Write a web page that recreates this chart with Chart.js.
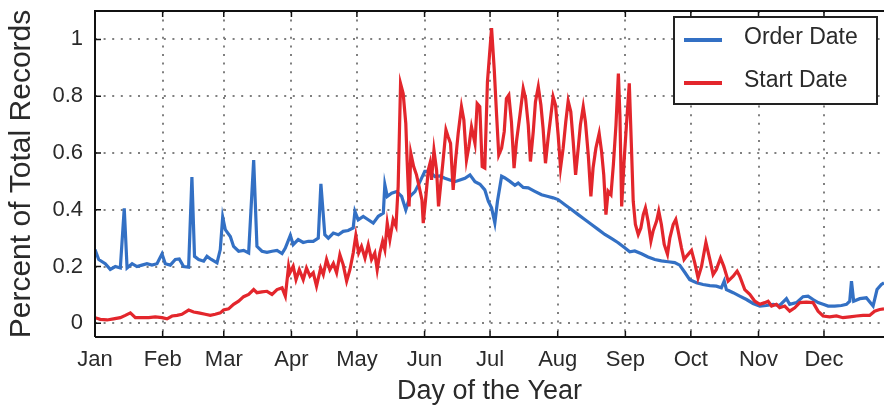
<!DOCTYPE html>
<html><head><meta charset="utf-8">
<script src="https://cdn.jsdelivr.net/npm/chart.js@4"></script>
<style>html,body{margin:0;padding:0;background:#fff;overflow:hidden}</style>
</head><body>
<canvas id="c" width="884" height="406"></canvas>
<script>
// ---- data ----
const monthTicks = [0, 31, 59, 90, 120, 151, 181, 212, 243, 273, 304, 334];
const monthLabels = ['Jan','Feb','Mar','Apr','May','Jun','Jul','Aug','Sep','Oct','Nov','Dec'];
const yTicks = [0, 0.2, 0.4, 0.6, 0.8, 1];
const yTickLabels = ['0', '0.2', '0.4', '0.6', '0.8', '1'];
const seriesNames = ['Order Date', 'Start Date'];

const orderDays = [0,1.7,4.7,7,9.3,11.6,13.4,14.7,17,19.2,21.5,23.8,26.1,28.4,30.7,32.2,34.5,36.8,38.6,40.6,42.9,44.4,45.6,47.5,49.8,51.3,53.3,55.9,57.4,58.5,59.7,62,63.5,65.8,68.1,70.4,72.7,74.2,76.5,78.8,81.1,83.4,85.7,87.2,89.5,90.8,93.1,95.4,97.7,100,102.3,103.5,105.3,106.9,109.2,111.5,113.7,116,118.3,119.1,120.6,122.9,125.2,127.5,129.8,132.1,132.8,133.9,135.9,138.2,140.5,142.4,144.3,146.6,148.9,151.1,153.4,155.7,158,160.3,162.6,164.9,167.2,169.5,171.8,174.1,176.4,178.6,180.2,181.7,183.2,184.4,186.3,187.8,190.1,192.4,193.9,196.2,198.5,201.5,204.6,207.6,209.9,212.2,215.3,218.3,221.4,224.4,227.5,230.5,233.6,236.6,239.7,242.7,245,247.3,250.4,253.4,256.5,259.5,262.6,265.6,267.9,270.2,272.5,275.6,278.6,281.7,284.7,287,288.3,289.3,292.4,295.4,298.5,301.5,304.6,307.6,310.7,313.7,316.8,318.3,321.4,324.4,326.7,329,331.3,333.6,335.9,338.9,342,344.3,345.8,346.6,347.6,350.4,353.4,356.5,358.3,360.3,361.5];
const orderValues = [0.26,0.225,0.21,0.19,0.2,0.195,0.405,0.195,0.21,0.2,0.205,0.21,0.205,0.21,0.245,0.21,0.205,0.225,0.227,0.2,0.198,0.515,0.236,0.225,0.219,0.236,0.225,0.213,0.26,0.374,0.33,0.306,0.271,0.254,0.257,0.248,0.575,0.271,0.254,0.25,0.254,0.257,0.246,0.265,0.31,0.277,0.295,0.285,0.289,0.289,0.3,0.491,0.312,0.3,0.318,0.312,0.324,0.327,0.336,0.394,0.365,0.377,0.365,0.353,0.377,0.388,0.488,0.447,0.458,0.464,0.447,0.4,0.447,0.464,0.499,0.535,0.535,0.517,0.519,0.511,0.505,0.499,0.505,0.511,0.523,0.499,0.49,0.47,0.43,0.407,0.354,0.43,0.518,0.512,0.5,0.486,0.494,0.479,0.477,0.465,0.453,0.447,0.442,0.436,0.418,0.401,0.383,0.366,0.348,0.331,0.313,0.299,0.284,0.266,0.252,0.255,0.245,0.234,0.225,0.22,0.217,0.214,0.205,0.18,0.154,0.143,0.137,0.133,0.131,0.125,0.149,0.119,0.108,0.096,0.084,0.07,0.061,0.063,0.067,0.063,0.087,0.067,0.073,0.094,0.096,0.084,0.073,0.067,0.061,0.061,0.063,0.067,0.078,0.149,0.078,0.087,0.09,0.061,0.119,0.137,0.143];

const startDays = [0,2.4,5.5,8.5,11.6,13.9,16.2,18.5,21.5,24.6,27.6,30.7,33,35.3,37.6,39.8,42.9,45.2,47.5,50.5,52.8,55.1,57.4,58.9,61.2,63.5,65.8,68.1,70.4,72.7,74.2,76.5,78.8,81.1,83.4,85.7,87.2,88.7,89.3,90.8,92.1,93.6,95.4,96.9,98.5,100,101.5,103.4,104.6,106.1,107.6,109.2,110.7,112.2,113.7,115.3,116.8,118.3,119.5,120.8,122.1,123.7,125.2,126.7,128.2,129.3,130.5,131.8,132.8,133.9,135.1,136.6,137.9,138.9,140,141.2,142.4,143,143.9,144.7,146,147.3,148.5,149.8,150.4,151.6,152.7,153.5,154.2,155.3,156.5,157.4,158.3,159.5,160.8,161.8,162.9,164.1,165.2,166.4,167.9,169,170.2,171.3,172.5,174.1,175.1,176.3,177.4,178.6,179.8,181.7,182.9,184,185,186.3,187.5,188.5,189.6,190.8,192,193.1,194.7,196.2,197.3,198.5,199.5,200.8,201.8,203.1,204.3,205.3,206.4,207.6,208.9,209.9,211,212.2,213.3,214.5,215.7,216.8,218,219.1,220.2,221.4,222.4,223.7,224.7,226,227.2,228.2,229.5,231,232.1,233.1,234.1,235.1,236.4,237.5,238.7,239.8,240.5,241.3,242.5,243.5,244.8,245.8,246.6,247.6,248.9,250.1,251.2,252.2,253.4,254.7,255.7,257.3,258.3,259.5,260.8,262.3,263.4,264.9,266.1,267.2,268.7,269.9,271,273.3,274.8,276.3,277.9,279.9,281.7,283.2,284.7,286.6,288.1,290.1,292.4,294.2,295.4,297.7,300,302.3,304.6,306.9,308.4,310,312.2,313.7,316,318.3,320.6,322.9,325.9,329,331.3,333.6,336.6,339.7,342.7,345.8,348.9,351.9,354.9,357.2,359.5,361.5];
const startValues = [0.02,0.014,0.012,0.016,0.02,0.028,0.037,0.02,0.02,0.02,0.023,0.02,0.016,0.026,0.028,0.032,0.047,0.04,0.037,0.032,0.028,0.032,0.037,0.047,0.051,0.067,0.078,0.094,0.102,0.119,0.108,0.111,0.113,0.102,0.119,0.125,0.096,0.201,0.178,0.201,0.154,0.189,0.154,0.195,0.166,0.178,0.131,0.195,0.172,0.225,0.189,0.211,0.178,0.242,0.207,0.149,0.189,0.248,0.309,0.248,0.271,0.23,0.277,0.225,0.248,0.189,0.248,0.289,0.26,0.353,0.295,0.365,0.342,0.482,0.844,0.809,0.704,0.575,0.412,0.599,0.552,0.523,0.482,0.435,0.353,0.447,0.54,0.564,0.505,0.61,0.54,0.412,0.482,0.575,0.681,0.657,0.634,0.47,0.575,0.669,0.763,0.716,0.575,0.622,0.692,0.634,0.774,0.763,0.552,0.547,0.85,1.04,0.897,0.734,0.593,0.617,0.675,0.792,0.804,0.71,0.547,0.64,0.734,0.827,0.792,0.699,0.57,0.675,0.78,0.833,0.769,0.687,0.564,0.652,0.734,0.798,0.769,0.664,0.547,0.617,0.71,0.783,0.745,0.64,0.523,0.617,0.699,0.763,0.71,0.593,0.447,0.547,0.617,0.669,0.605,0.523,0.383,0.465,0.453,0.558,0.699,0.88,0.734,0.412,0.582,0.699,0.845,0.617,0.43,0.348,0.313,0.336,0.383,0.407,0.36,0.29,0.325,0.36,0.395,0.348,0.278,0.243,0.301,0.348,0.366,0.325,0.266,0.225,0.236,0.257,0.213,0.16,0.201,0.285,0.225,0.172,0.19,0.23,0.201,0.149,0.166,0.184,0.166,0.119,0.102,0.078,0.067,0.073,0.078,0.061,0.067,0.055,0.061,0.043,0.055,0.073,0.075,0.073,0.043,0.026,0.023,0.026,0.02,0.023,0.026,0.028,0.028,0.043,0.049,0.051];

// ---- styling ----
const FONT = '"Liberation Sans", Arial, Helvetica, sans-serif';
const BLUE = '#3370c4';
const RED = '#e3262c';
const TXT = '#2a2a2a';

const toPoints = (days, vals) => days.map((d, i) => ({ x: d, y: vals[i] }));

const framePlugin = {
  id: 'frame',
  afterDatasetsDraw(chart) {
    const { ctx, chartArea: a, scales } = chart;
    ctx.save();
    ctx.strokeStyle = '#111';
    ctx.lineWidth = 2;
    ctx.beginPath();
    ctx.moveTo(a.left, a.bottom); ctx.lineTo(a.left, a.top); ctx.lineTo(a.right + 2, a.top);
    ctx.moveTo(a.left, a.bottom); ctx.lineTo(a.right + 2, a.bottom);
    ctx.stroke();
    ctx.lineWidth = 1.5;
    ctx.beginPath();
    monthTicks.forEach(v => {
      const x = scales.x.getPixelForValue(v);
      ctx.moveTo(x, a.bottom); ctx.lineTo(x, a.bottom - 6);
      ctx.moveTo(x, a.top); ctx.lineTo(x, a.top + 6);
    });
    yTicks.forEach(v => {
      const y = scales.y.getPixelForValue(v);
      ctx.moveTo(a.left, y); ctx.lineTo(a.left + 6, y);
    });
    ctx.stroke();
    ctx.restore();
  }
};

const legendPlugin = {
  id: 'boxLegend',
  afterDraw(chart) {
    const { ctx, chartArea: a } = chart;
    const x0 = a.right - 210, y0 = a.top + 6, w = 203, h = 87;
    ctx.save();
    ctx.fillStyle = '#fff';
    ctx.fillRect(x0, y0, w, h);
    ctx.strokeStyle = '#222';
    ctx.lineWidth = 2;
    ctx.strokeRect(x0, y0, w, h);
    ctx.font = '23px ' + FONT;
    ctx.textBaseline = 'middle';
    ctx.textAlign = 'left';
    chart.data.datasets.forEach((ds, i) => {
      const cy = y0 + 22 + i * 43;
      ctx.strokeStyle = ds.borderColor;
      ctx.lineWidth = 4;
      ctx.beginPath();
      ctx.moveTo(x0 + 10, cy + 1); ctx.lineTo(x0 + 48, cy + 1);
      ctx.stroke();
      ctx.fillStyle = TXT;
      ctx.fillText(ds.label, x0 + 70, cy - 1);
    });
    ctx.restore();
  }
};

new Chart(document.getElementById('c'), {
  type: 'line',
  data: {
    datasets: [
      { label: seriesNames[0], data: toPoints(orderDays, orderValues), borderColor: BLUE, backgroundColor: BLUE,
        borderWidth: 3.2, pointRadius: 0, tension: 0, order: 1 },
      { label: seriesNames[1], data: toPoints(startDays, startValues), borderColor: RED, backgroundColor: RED,
        borderWidth: 3.2, pointRadius: 0, tension: 0, order: 0 }
    ]
  },
  options: {
    responsive: false,
    animation: false,
    devicePixelRatio: 1,
    layout: { padding: { top: 11, left: 0, right: 0, bottom: 0 } },
    plugins: { legend: { display: false }, tooltip: { enabled: false } },
    scales: {
      x: {
        type: 'linear', min: 0, max: 361.5,
        afterBuildTicks: s => { s.ticks = monthTicks.map(v => ({ value: v })); },
        afterFit: s => { s.height = 69; s.paddingLeft = 0; s.paddingRight = 0; },
        ticks: { callback: (v, i) => monthLabels[i], font: { family: FONT, size: 22 }, color: TXT,
                 padding: 10, maxRotation: 0, autoSkip: false },
        grid: { color: '#808080', lineWidth: 2, drawTicks: false },
        border: { display: false, dash: [2, 6.6] },
        title: { display: true, text: 'Day of the Year', font: { family: FONT, size: 27, lineHeight: 1.05 }, color: TXT, padding: 0 }
      },
      y: {
        min: -0.048, max: 1.1,
        afterBuildTicks: s => { s.ticks = yTicks.map(v => ({ value: v })); },
        afterFit: s => { s.width = 95; s.paddingTop = 0; s.paddingBottom = 0; },
        ticks: { callback: (v, i) => yTickLabels[i], font: { family: FONT, size: 22 }, color: TXT, padding: 12 },
        grid: { color: '#808080', lineWidth: 2, drawTicks: false },
        border: { display: false, dash: [2, 6.6] },
        title: { display: true, text: 'Percent of Total Records', font: { family: FONT, size: 30 }, color: TXT, padding: { top: 4, bottom: 0 } }
      }
    }
  },
  plugins: [framePlugin, legendPlugin]
});
</script>
</body></html>
